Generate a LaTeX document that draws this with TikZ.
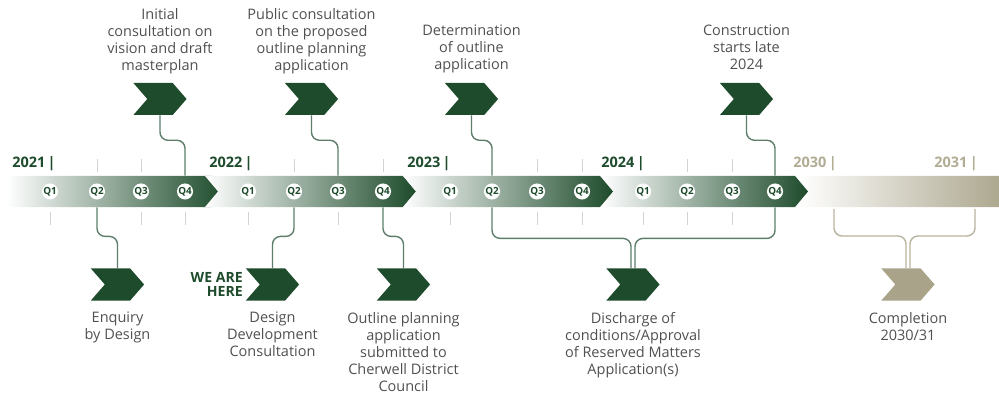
\documentclass[tikz,border=0pt]{standalone}
\usepackage{fontspec}
\setmainfont{Open Sans}
\usetikzlibrary{shapes.symbols}
\definecolor{forest}{HTML}{1D4B2B}
\definecolor{sand}{HTML}{A8A389}
\definecolor{sandtext}{HTML}{B1AC94}
\definecolor{sandline}{HTML}{B9B4A0}
\definecolor{linkgreen}{HTML}{5E7E6B}
\definecolor{copytext}{HTML}{505050}
\definecolor{tickgrey}{HTML}{D3D3D3}
\pgfdeclarelayer{nodelayer}
\pgfdeclarelayer{edgelayer}
\pgfsetlayers{edgelayer,nodelayer,main}
\tikzstyle{segment}=[shape=signal, signal to=east, signal pointer angle=100, inner sep=0, minimum height=0.78cm, left color=white, right color=forest]
\tikzstyle{first segment}=[style=segment, signal from=nowhere]
\tikzstyle{later segment}=[style=segment, signal from=west]
\tikzstyle{final segment}=[style=segment, signal from=nowhere, signal to=nowhere, right color=sand]
\tikzstyle{quarter}=[shape=circle, fill=white, inner sep=0, minimum size=0.4cm, text=forest, font=\fontsize{7}{7}\selectfont\bfseries]
\tikzstyle{year}=[anchor=base east, inner sep=0, text=forest, font=\fontsize{10.3}{12}\selectfont\bfseries]
\tikzstyle{late year}=[style=year, text=sandtext]
\tikzstyle{marker}=[shape=signal, signal to=east, signal from=west, signal pointer angle=98, fill=forest, inner sep=0, minimum width=1.33cm, minimum height=0.8cm]
\tikzstyle{final marker}=[style=marker, fill=sand]
\tikzstyle{caption}=[align=center, inner sep=0, anchor=north, text=copytext, font=\fontsize{10.3}{12.1}\selectfont]
\tikzstyle{here}=[align=right, inner sep=0, anchor=north east, text=forest, font=\fontsize{10}{10}\selectfont\bfseries]
\tikzstyle{link}=[draw=linkgreen, line width=1pt, rounded corners=0.2cm]
\tikzstyle{final link}=[style=link, draw=sandline]
\tikzstyle{tick}=[draw=tickgrey, line width=0.7pt]

\begin{document}
\begin{tikzpicture}[x=0.025cm, y=-0.025cm]
	\useasboundingbox (0, 0) rectangle (999, 398);
	\begin{pgfonlayer}{nodelayer}
		% timeline band, the 2030/31 stretch goes underneath
		\node [style=final segment, minimum width=5.3cm] (4) at (904, 191.5) {};
		\node [style=first segment, minimum width=5.45cm] (0) at (109, 191.5) {};
		\node [style=later segment, minimum width=5.275cm] (1) at (310.5, 191.5) {};
		\node [style=later segment, minimum width=5.25cm] (2) at (508, 191.5) {};
		\node [style=later segment, minimum width=5.175cm] (3) at (704.5, 191.5) {};
		% quarters
		\node [style=quarter] (5) at (50, 191.5) {Q1};
		\node [style=quarter] (6) at (97, 191.5) {Q2};
		\node [style=quarter] (7) at (141, 191.5) {Q3};
		\node [style=quarter] (8) at (185, 191.5) {Q4};
		\node [style=quarter] (9) at (248, 191.5) {Q1};
		\node [style=quarter] (10) at (294, 191.5) {Q2};
		\node [style=quarter] (11) at (338, 191.5) {Q3};
		\node [style=quarter] (12) at (383, 191.5) {Q4};
		\node [style=quarter] (13) at (450, 191.5) {Q1};
		\node [style=quarter] (14) at (492, 191.5) {Q2};
		\node [style=quarter] (15) at (537, 191.5) {Q3};
		\node [style=quarter] (16) at (582, 191.5) {Q4};
		\node [style=quarter] (17) at (643, 191.5) {Q1};
		\node [style=quarter] (18) at (687, 191.5) {Q2};
		\node [style=quarter] (19) at (732, 191.5) {Q3};
		\node [style=quarter] (20) at (775, 191.5) {Q4};
		% years
		\node [style=year] (21) at (56, 168) {2021\,|};
		\node [style=year] (22) at (253, 168) {2022\,|};
		\node [style=year] (23) at (451, 168) {2023\,|};
		\node [style=year] (24) at (645, 168) {2024\,|};
		\node [style=late year] (25) at (837, 168) {2030\,|};
		\node [style=late year] (26) at (978, 168) {2031\,|};
		% milestones above
		\node [style=marker] (27) at (160, 99) {};
		\node [style=marker] (28) at (311.5, 99) {};
		\node [style=marker] (29) at (471.5, 99) {};
		\node [style=marker] (30) at (746.5, 99) {};
		\node [style=caption] (31) at (160, 8) {Initial\\consultation on\\vision and draft\\masterplan};
		\node [style=caption] (32) at (311.5, 8) {Public consultation\\on the proposed\\outline planning\\application};
		\node [style=caption] (33) at (471.5, 25) {Determination\\of outline\\application};
		\node [style=caption] (34) at (746.5, 25) {Construction\\starts late\\2024};
		% milestones below
		\node [style=marker] (35) at (117.5, 284.5) {};
		\node [style=marker] (36) at (272.5, 284.5) {};
		\node [style=marker] (37) at (403.5, 284.5) {};
		\node [style=marker] (38) at (633, 284.5) {};
		\node [style=final marker] (39) at (908, 284.5) {};
		\node [style=caption] (40) at (117.5, 312) {Enquiry\\by Design};
		\node [style=caption] (41) at (272.5, 312) {Design\\Development\\Consultation};
		\node [style=caption] (42) at (403.5, 312) {Outline planning\\application\\submitted to\\Cherwell District\\Council};
		\node [style=caption] (43) at (633, 312) {Discharge of\\conditions/Approval\\of Reserved Matters\\Application(s)};
		\node [style=caption] (44) at (908, 312) {Completion\\2030/31};
		\node [style=here] (45) at (243, 272) {WE ARE\\HERE};
		\coordinate (46) at (834, 209);
		\coordinate (47) at (975, 209);
	\end{pgfonlayer}
	\begin{pgfonlayer}{edgelayer}
		\draw [style=tick] (6.center) ++(0,-32) -- ++(0,13) (7.center) ++(0,-32) -- ++(0,13)
			(10.center) ++(0,-32) -- ++(0,13) (12.center) ++(0,-32) -- ++(0,13)
			(15.center) ++(0,-32) -- ++(0,13) (16.center) ++(0,-32) -- ++(0,13)
			(18.center) ++(0,-32) -- ++(0,13) (19.center) ++(0,-32) -- ++(0,13);
		\draw [style=tick] (5.center) ++(0,21) -- ++(0,13) (7.center) ++(0,21) -- ++(0,13)
			(8.center) ++(0,21) -- ++(0,13) (9.center) ++(0,21) -- ++(0,13)
			(11.center) ++(0,21) -- ++(0,13) (13.center) ++(0,21) -- ++(0,13)
			(15.center) ++(0,21) -- ++(0,13) (16.center) ++(0,21) -- ++(0,13)
			(17.center) ++(0,21) -- ++(0,13) (18.center) ++(0,21) -- ++(0,13)
			(19.center) ++(0,21) -- ++(0,13);
		\draw [style=link] (27.south) -- ++(0,25) -| (8 |- 0.north);
		\draw [style=link] (28.south) -- ++(0,25) -| (11 |- 1.north);
		\draw [style=link] (29.south) -- ++(0,25) -| (14 |- 2.north);
		\draw [style=link] (30.south) -- ++(0,25) -| (20 |- 3.north);
		\draw [style=link] (6 |- 0.south) -- ++(0,29) -| (35.north);
		\draw [style=link] (10 |- 1.south) -- ++(0,29) -| (36.north);
		\draw [style=link] (12 |- 1.south) -- ++(0,29) -| (37.north);
		\draw [style=link] (14 |- 2.south) -- ++(0,31) -| ([xshift=-0.05cm]38.north);
		\draw [style=link] (20 |- 3.south) -- ++(0,31) -| ([xshift=0.05cm]38.north);
		\draw [style=final link] (46) -- ++(0,27) -| ([xshift=-0.05cm]39.north);
		\draw [style=final link] (47) -- ++(0,27) -| ([xshift=0.05cm]39.north);
	\end{pgfonlayer}
\end{tikzpicture}
\end{document}
